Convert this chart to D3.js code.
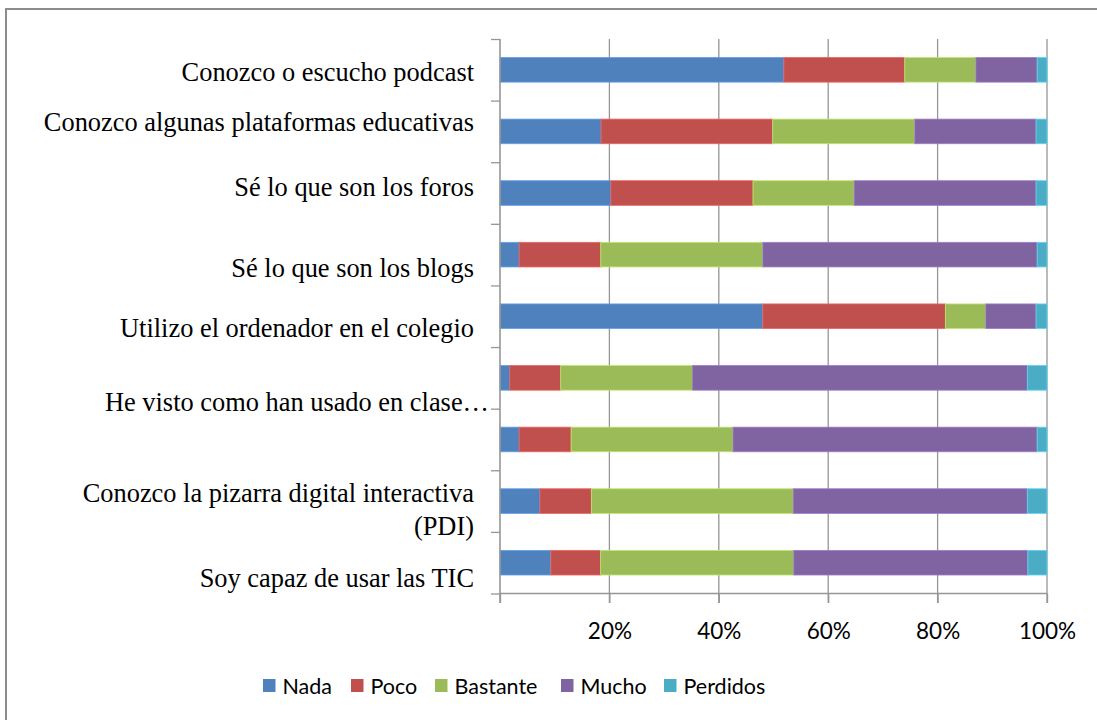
<!DOCTYPE html>
<html>
<head>
<meta charset="utf-8">
<script src="https://cdn.jsdelivr.net/npm/d3@7"></script>
<style>
  html, body { margin: 0; padding: 0; background: #fff; }
  svg { display: block; }
</style>
</head>
<body>
<svg id="chart" width="1097" height="720"></svg>
<script>
// ---------- data ----------
const categories = [
  "Conozco o escucho podcast",
  "Conozco algunas plataformas educativas",
  "Sé lo que son los foros",
  "Sé lo que son los blogs",
  "Utilizo el ordenador en el colegio",
  "",
  "He visto como han usado en clase…",
  "Conozco la pizarra digital interactiva\n(PDI)",
  "Soy capaz de usar las TIC"
];
const seriesNames = ["Nada", "Poco", "Bastante", "Mucho", "Perdidos"];
const nada     = [51.9, 18.5, 20.3,  3.5, 48.1,  1.8,  3.5,  7.3,  9.3];
const poco     = [22.1, 31.4, 26.0, 14.9, 33.4,  9.3,  9.5,  9.4,  9.1];
const bastante = [13.0, 26.0, 18.5, 29.6,  7.4, 24.1, 29.6, 36.9, 35.3];
const mucho    = [11.2, 22.2, 33.3, 50.1,  9.2, 61.2, 55.6, 42.8, 42.8];
const perdidos = [ 1.8,  2.0,  2.0,  1.8,  2.0,  3.6,  1.8,  3.6,  3.5];
const xTickValues = [0, 0.2, 0.4, 0.6, 0.8, 1.0];
const xTickLabels = ["", "20%", "40%", "60%", "80%", "100%"];

// ---------- layout / style ----------
const colors = ["#4F81BD", "#C0504D", "#9BBB59", "#8064A2", "#4BACC6"];
const plot = { left: 500, right: 1047, top: 39, bottom: 593.5 };
const labelRight = 474;
// vertical shift of each category label's first baseline from its band centre (Excel layout)
const labelShift = [11, -0.7, 3, 22, 21, 0, -28, 0.5, 24];
const labelRightShift = [0, 0, 0, 0, 0, 0, 15, 0, 0];
const legendX = [263, 351, 435, 561, 664];

const svg = d3.select("#chart");

// outer frame
svg.append("rect")
  .attr("x", 6).attr("y", 9).attr("width", 1200).attr("height", 800)
  .attr("fill", "none").attr("stroke", "#8c8c8c").attr("stroke-width", 2);

const rows = categories.map((c, i) => ({
  cat: c, idx: i,
  Nada: nada[i], Poco: poco[i], Bastante: bastante[i], Mucho: mucho[i], Perdidos: perdidos[i]
}));

const x = d3.scaleLinear().domain([0, 1]).range([plot.left, plot.right]);
const y = d3.scaleBand().domain(d3.range(categories.length))
  .range([plot.top, plot.bottom]).paddingInner(0.6).paddingOuter(0.3);
const yEdge = d3.scaleLinear().domain([0, categories.length]).range([plot.top, plot.bottom]);

// gridlines
svg.append("g").selectAll("line")
  .data(xTickValues.slice(1))
  .join("line")
  .attr("x1", d => x(d)).attr("x2", d => x(d))
  .attr("y1", plot.top).attr("y2", plot.bottom + 9.5)
  .attr("stroke", "#969696").attr("stroke-width", 1.3);

// stacked bars
const stack = d3.stack().keys(seriesNames).offset(d3.stackOffsetExpand);
const stacked = stack(rows);

svg.append("g").selectAll("g")
  .data(stacked)
  .join("g")
  .attr("fill", (d, i) => colors[i])
  .attr("stroke", (d, i) => d3.color(colors[i]).brighter(0.6))
  .attr("stroke-width", 0.8)
  .selectAll("rect")
  .data(d => d)
  .join("rect")
  .attr("x", d => x(d[0]))
  .attr("width", d => x(d[1]) - x(d[0]))
  .attr("y", d => y(d.data.idx))
  .attr("height", y.bandwidth());

// y axis (category edges with outward ticks)
const yAxis = d3.axisLeft(yEdge).tickValues(d3.range(categories.length + 1))
  .tickSize(9).tickFormat(() => "");
const gy = svg.append("g").attr("transform", `translate(${plot.left},0)`).call(yAxis);
gy.select(".domain").attr("stroke", "#969696").attr("stroke-width", 1.6)
  .attr("d", `M0,${plot.top}V${plot.bottom + 9.5}`);
gy.selectAll(".tick line").attr("stroke", "#969696").attr("stroke-width", 1.3);

// x axis
const xAxis = d3.axisBottom(x).tickValues(xTickValues).tickSize(9.5)
  .tickFormat((d, i) => xTickLabels[i]);
const gx = svg.append("g").attr("transform", `translate(0,${plot.bottom})`).call(xAxis);
gx.select(".domain").attr("stroke", "#969696").attr("stroke-width", 1.3)
  .attr("d", `M${plot.left},0H${plot.right}`);
gx.selectAll(".tick line").attr("stroke", "#969696").attr("stroke-width", 1.3);
gx.selectAll(".tick text")
  .attr("font-family", "Lato, 'Open Sans', sans-serif")
  .attr("font-size", "22.5px").attr("fill", "#000")
  .attr("y", 0).attr("dy", 0)
  .attr("transform", "translate(0,45.5)");

// category labels
const labels = svg.append("g")
  .attr("font-family", "'Liberation Serif', 'Times New Roman', serif")
  .attr("font-size", "26.4px").attr("fill", "#000").attr("text-anchor", "end");
rows.forEach((r, i) => {
  const lines = r.cat.split("\n");
  const t = labels.append("text")
    .attr("x", labelRight + labelRightShift[i])
    .attr("y", y(i) + y.bandwidth() / 2 + labelShift[i]);
  lines.forEach((ln, k) => {
    t.append("tspan").attr("x", labelRight + labelRightShift[i])
      .attr("dy", k === 0 ? 0 : 33.3).text(ln);
  });
});

// legend
const legend = svg.append("g").attr("transform", "translate(0,679)");
seriesNames.forEach((name, i) => {
  const g = legend.append("g").attr("transform", `translate(${legendX[i]},0)`);
  g.append("rect").attr("width", 12.5).attr("height", 13).attr("fill", colors[i]);
  g.append("text").attr("x", 19.5).attr("y", 15.3)
    .attr("font-family", "Lato, 'Open Sans', sans-serif")
    .attr("font-size", "21.5px").attr("fill", "#000").text(name);
});
</script>
</body>
</html>
